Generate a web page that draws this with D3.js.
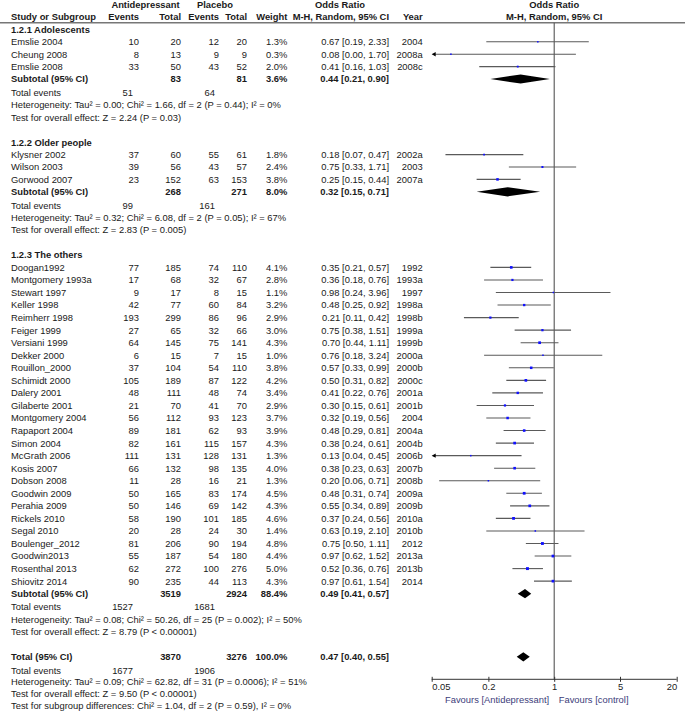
<!DOCTYPE html>
<html><head><meta charset="utf-8">
<script src="https://cdn.jsdelivr.net/npm/d3@7"></script>
<style>
html,body{margin:0;padding:0;background:#fff;}
svg{display:block;font-family:"Liberation Sans",Arial,sans-serif;}
</style></head>
<body>
<svg id="chart" width="685" height="713"></svg>
<script>
// ---------------- DATA ----------------
const subgroupNames = ["1.2.1 Adolescents", "1.2.2 Older people", "1.2.3 The others"];
const studyNames = ["Emslie 2004","Cheung 2008","Emslie 2008",
  "Klysner 2002","Wilson 2003","Gorwood 2007",
  "Doogan1992","Montgomery 1993a","Stewart 1997","Keller 1998","Reimherr 1998","Feiger 1999",
  "Versiani 1999","Dekker 2000","Rouillon_2000","Schimidt 2000","Dalery 2001","Gilaberte 2001",
  "Montgomery 2004","Rapaport 2004","Simon 2004","McGrath 2006","Kosis 2007","Dobson 2008",
  "Goodwin 2009","Perahia 2009","Rickels 2010","Segal 2010","Boulenger_2012","Goodwin2013",
  "Rosenthal 2013","Shiovitz 2014"];
const studyGroup = [0,0,0, 1,1,1, 2,2,2,2,2,2,2,2,2,2,2,2,2,2,2,2,2,2,2,2,2,2,2,2,2,2];
const eventsA = [10,8,33, 37,39,23, 77,17,9,42,193,27,64,6,37,105,48,21,56,89,82,111,66,11,50,50,58,20,81,55,62,90];
const totalA  = [20,13,50, 60,56,152, 185,68,17,77,299,65,145,15,104,189,111,70,112,181,161,131,132,28,165,146,190,28,206,187,272,235];
const eventsP = [12,9,43, 55,43,63, 74,32,8,60,86,32,75,7,54,87,48,41,93,62,115,128,98,16,83,69,101,24,90,54,100,44];
const totalP  = [20,9,52, 61,57,153, 110,67,15,84,96,66,141,15,110,122,74,70,123,93,157,131,135,21,174,142,185,30,194,180,276,113];
const weightPct = [1.3,0.3,2.0, 1.8,2.4,3.8, 4.1,2.8,1.1,3.2,2.9,3.0,4.3,1.0,3.8,4.2,3.4,2.9,3.7,3.9,4.3,1.3,4.0,1.3,4.5,4.3,4.6,1.4,4.8,4.4,5.0,4.3];
const oddsRatio = [0.67,0.08,0.41, 0.18,0.75,0.25, 0.35,0.36,0.98,0.48,0.21,0.75,0.70,0.76,0.57,0.50,0.41,0.30,0.32,0.48,0.38,0.13,0.38,0.20,0.48,0.55,0.37,0.63,0.75,0.97,0.52,0.97];
const ciLow  = [0.19,0.00,0.16, 0.07,0.33,0.15, 0.21,0.18,0.24,0.25,0.11,0.38,0.44,0.18,0.33,0.31,0.22,0.15,0.19,0.29,0.24,0.04,0.23,0.06,0.31,0.34,0.24,0.19,0.50,0.62,0.36,0.61];
const ciHigh = [2.33,1.70,1.03, 0.47,1.71,0.44, 0.57,0.76,3.96,0.92,0.42,1.51,1.11,3.24,0.99,0.82,0.76,0.61,0.56,0.81,0.61,0.45,0.63,0.71,0.74,0.89,0.56,2.10,1.11,1.52,0.76,1.54];
const yearLabel = ["2004","2008a","2008c", "2002a","2003","2007a",
  "1992","1993a","1997","1998a","1998b","1999a","1999b","2000a","2000b","2000c","2001a","2001b",
  "2004","2004a","2004b","2006b","2007b","2008b","2009a","2009b","2010a","2010b","2012","2013a","2013b","2014"];

const subTotalA = [83, 268, 3519];
const subTotalP = [81, 271, 2924];
const subWeight = [3.6, 8.0, 88.4];
const subOR  = [0.44, 0.32, 0.49];
const subLow = [0.21, 0.15, 0.41];
const subHigh = [0.90, 0.71, 0.57];
const subEventsA = [51, 99, 1527];
const subEventsP = [64, 161, 1681];
const subHetText = [
  "Heterogeneity: Tau\u00b2 = 0.00; Chi\u00b2 = 1.66, df = 2 (P = 0.44); I\u00b2 = 0%",
  "Heterogeneity: Tau\u00b2 = 0.32; Chi\u00b2 = 6.08, df = 2 (P = 0.05); I\u00b2 = 67%",
  "Heterogeneity: Tau\u00b2 = 0.08; Chi\u00b2 = 50.26, df = 25 (P = 0.002); I\u00b2 = 50%"];
const subTestText = [
  "Test for overall effect: Z = 2.24 (P = 0.03)",
  "Test for overall effect: Z = 2.83 (P = 0.005)",
  "Test for overall effect: Z = 8.79 (P < 0.00001)"];

const totalA_all = 3870, totalP_all = 3276, totalWeight = 100.0;
const totalOR = 0.47, totalLow = 0.40, totalHigh = 0.55;
const totalEventsA = 1677, totalEventsP = 1906;
const totalFooter = [
  "Heterogeneity: Tau\u00b2 = 0.09; Chi\u00b2 = 62.82, df = 31 (P = 0.0006); I\u00b2 = 51%",
  "Test for overall effect: Z = 9.50 (P < 0.00001)",
  "Test for subgroup differences: Chi\u00b2 = 1.04, df = 2 (P = 0.59), I\u00b2 = 0%"];

const axisTicks = [0.05, 0.2, 1, 5, 20];
const axisTickLabels = ["0.05", "0.2", "1", "5", "20"];
const favoursLeft = "Favours [Antidepressant]";
const favoursRight = "Favours [control]";

// ---------------- LAYOUT ----------------
const svg = d3.select("#chart");
const FS = 9.4;
const TXT = "#1a1a1a";
const col = {name: 11, evA: 139, totA: 181, evP: 219, totP: 247, w: 287.3, ci: 389, year: 422.7, teA: 133, teP: 215};
const x = d3.scaleLog().domain([0.05, 20]).range([431.7, 676.7]);
const xc = v => x(Math.max(0.05, Math.min(20, v)));
const fmt2 = d3.format(".2f");
const ciStr = (o, l, h) => `${fmt2(o)} [${fmt2(l)}, ${fmt2(h)}]`;

function txt(xp, y, s, anchor, bold, color, size) {
  svg.append("text").attr("x", xp).attr("y", y + 3.4)
    .attr("text-anchor", anchor || "start")
    .attr("font-size", size || FS)
    .attr("font-weight", bold ? "bold" : "normal")
    .attr("fill", color || TXT).text(s);
}

// header
txt(145.5, 5, "Antidepressant", "middle", true);
txt(215, 5, "Placebo", "middle", true);
txt(340, 5, "Odds Ratio", "middle", true);
txt(x(1), 5, "Odds Ratio", "middle", true);
txt(col.name, 17, "Study or Subgroup", "start", true);
txt(col.evA, 17, "Events", "end", true);
txt(col.totA, 17, "Total", "end", true);
txt(col.evP, 17, "Events", "end", true);
txt(col.totP, 17, "Total", "end", true);
txt(col.w, 17, "Weight", "end", true);
txt(col.ci, 17, "M-H, Random, 95% CI", "end", true);
txt(col.year, 17, "Year", "end", true);
txt(x(1), 17, "M-H, Random, 95% CI", "middle", true);

svg.append("line").attr("x1", 0).attr("x2", 685).attr("y1", 22.7).attr("y2", 22.7)
  .attr("stroke", "#777").attr("stroke-width", 1.4);

const axisY = 679.3;
// line of no effect
svg.append("line").attr("x1", x(1)).attr("x2", x(1)).attr("y1", 22.7).attr("y2", axisY)
  .attr("stroke", "#555").attr("stroke-width", 1.1);

const plot = svg.append("g");

function drawDiamond(y, o, l, h) {
  const hh = 4.6;
  plot.append("path")
    .attr("d", `M${xc(l)},${y} L${xc(o)},${y - hh} L${xc(h)},${y} L${xc(o)},${y + hh} Z`)
    .attr("fill", "#000");
}

let y = 29.3;
subgroupNames.forEach((g, gi) => {
  txt(col.name, y, g, "start", true);
  const idx = studyGroup.map((v, i) => v === gi ? i : -1).filter(i => i >= 0);
  const step = gi === 2 ? 12.55 : 12.4;
  y += 12.5;
  idx.forEach((i, k) => {
    if (k > 0) y += step;
    txt(col.name, y, studyNames[i], "start", false);
    txt(col.evA, y, eventsA[i], "end");
    txt(col.totA, y, totalA[i], "end");
    txt(col.evP, y, eventsP[i], "end");
    txt(col.totP, y, totalP[i], "end");
    txt(col.w, y, weightPct[i].toFixed(1) + "%", "end");
    txt(col.ci, y, ciStr(oddsRatio[i], ciLow[i], ciHigh[i]), "end");
    txt(col.year, y, yearLabel[i], "end");
    // CI line
    const clippedL = ciLow[i] < 0.05;
    const x1 = xc(ciLow[i]) + (clippedL ? 1 : 0);
    plot.append("line").attr("x1", x1).attr("x2", xc(ciHigh[i]))
      .attr("y1", y).attr("y2", y).attr("stroke", "#5a5a5a").attr("stroke-width", 1.1);
    if (clippedL) {
      const ax = x(0.05);
      plot.append("path").attr("d", `M${ax},${y} L${ax + 4},${y - 2.2} L${ax + 4},${y + 2.2} Z`).attr("fill", "#000");
    }
    const s = Math.max(1.5, Math.sqrt(weightPct[i]) * 1.3);
    plot.append("rect").attr("x", x(oddsRatio[i]) - s / 2).attr("y", y - s / 2)
      .attr("width", s).attr("height", s).attr("fill", "#1010ff");
  });
  y += step;
  txt(col.name, y, "Subtotal (95% CI)", "start", true);
  txt(col.totA, y, subTotalA[gi], "end", true);
  txt(col.totP, y, subTotalP[gi], "end", true);
  txt(col.w, y, subWeight[gi].toFixed(1) + "%", "end", true);
  txt(col.ci, y, ciStr(subOR[gi], subLow[gi], subHigh[gi]), "end", true);
  drawDiamond(y, subOR[gi], subLow[gi], subHigh[gi]);
  y += 13.3;
  txt(col.name, y, "Total events", "start");
  txt(col.teA, y, subEventsA[gi], "end");
  txt(col.teP, y, subEventsP[gi], "end");
  y += 12.4;
  txt(col.name, y, subHetText[gi], "start");
  y += 12.4;
  txt(col.name, y, subTestText[gi], "start");
  y += 25;
});

// overall
txt(col.name, y, "Total (95% CI)", "start", true);
txt(col.totA, y, totalA_all, "end", true);
txt(col.totP, y, totalP_all, "end", true);
txt(col.w, y, totalWeight.toFixed(1) + "%", "end", true);
txt(col.ci, y, ciStr(totalOR, totalLow, totalHigh), "end", true);
drawDiamond(y, totalOR, totalLow, totalHigh);
y += 13.3;
txt(col.name, y, "Total events", "start");
txt(col.teA, y, totalEventsA, "end");
txt(col.teP, y, totalEventsP, "end");
totalFooter.forEach(s => { y += 11.7; txt(col.name, y, s, "start"); });

// axis
const axis = d3.axisBottom(x).tickValues(axisTicks)
  .tickFormat((d, i) => axisTickLabels[i]).tickSize(5).tickPadding(2);
const ag = svg.append("g").attr("transform", `translate(0,${axisY})`).call(axis);
ag.select(".domain").attr("stroke", "#333").attr("d", `M${x(0.05)},0H${x(20)}`);
ag.selectAll(".tick line").attr("y1", -2.5).attr("y2", 2.5).attr("stroke", "#333");
ag.selectAll(".tick text").attr("font-size", FS).attr("fill", TXT)
  .attr("font-family", "Liberation Sans, Arial, sans-serif").attr("y", 4.5)
  .attr("text-anchor", (d, i) => i === 0 ? "start" : (i === axisTicks.length - 1 ? "end" : "middle"));
txt(x(1) - 5, 700, favoursLeft, "end", false, "#3d3d7a");
txt(x(1) + 4.5, 700, favoursRight, "start", false, "#3d3d7a");
</script>
</body></html>
